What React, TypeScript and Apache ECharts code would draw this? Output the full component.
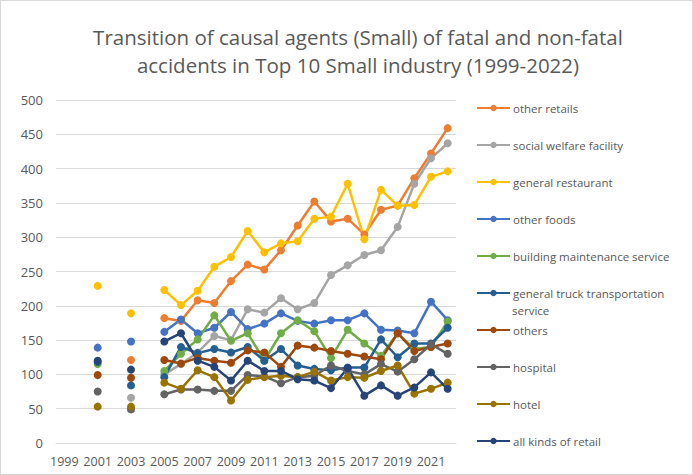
import React, { useEffect, useRef } from "react";
import * as echarts from "echarts";

const years = Array.from({ length: 24 }, (_, i) => String(1999 + i));

const names = [
  "other retails",
  "social welfare facility",
  "general restaurant",
  "other foods",
  "building maintenance service",
  "general truck transportation service",
  "others",
  "hospital",
  "hotel",
  "all kinds of retail",
];

const colors = [
  "#ED7D31",
  "#A5A5A5",
  "#FFC000",
  "#4472C4",
  "#70AD47",
  "#255E91",
  "#9E480E",
  "#636363",
  "#997300",
  "#264478",
];

const N = null;
// 1999..2022
const otherRetails = [N, N, N, N, 121, N, 182, 178, 208, 204, 236, 260, 253, 281, 317, 352, 323, 327, 304, 340, 346, 386, 422, 459];
const socialWelfare = [N, N, N, N, 66, N, 100, 115, 132, 156, 150, 195, 190, 211, 195, 204, 245, 259, 274, 281, 315, 378, 415, 437];
const generalRestaurant = [N, N, 229, N, 189, N, 223, 201, 222, 257, 271, 309, 278, 291, 294, 327, 330, 378, 297, 369, 346, 347, 388, 396];
const otherFoods = [N, N, 139, N, 148, N, 162, 180, 160, 168, 191, 166, 174, 189, 178, 174, 179, 179, 189, 165, 164, 160, 206, 179];
const buildingMaint = [N, N, 115, N, N, N, 105, 130, 151, 186, 149, 160, 120, 160, 179, 163, 124, 165, 145, 127, 160, 137, 140, 177];
const truck = [N, N, 118, N, 84, N, 96, 140, 131, 137, 132, 140, 120, 137, 113, 108, 106, 110, 110, 151, 125, 145, 145, 168];
const others = [N, N, 99, N, 95, N, 121, 116, 124, 120, 117, 135, 132, 111, 142, 139, 134, 130, 126, 122, 160, 134, 140, 145];
const hospital = [N, N, 75, N, 49, N, 71, 78, 78, 76, 76, 99, 97, 87, 96, 98, 113, 105, 100, 115, 104, 122, 144, 130];
const hotel = [N, N, 53, N, 53, N, 88, 79, 106, 96, 62, 92, 96, 98, 96, 104, 91, 96, 95, 105, 113, 72, 79, 88];
const allKindsRetail = [N, N, 120, N, 107, N, 148, 160, 120, 111, 91, 120, 105, 105, 93, 91, 80, 109, 69, 84, 69, 81, 103, 79];

const seriesData = [
  otherRetails,
  socialWelfare,
  generalRestaurant,
  otherFoods,
  buildingMaint,
  truck,
  others,
  hospital,
  hotel,
  allKindsRetail,
];

const yTicks = [0, 50, 100, 150, 200, 250, 300, 350, 400, 450, 500];

const FONT = "'Open Sans', 'Noto Sans', sans-serif";
const TXT = "#595959";

export default function App() {
  const ref = useRef<HTMLDivElement>(null);
  useEffect(() => {
    if (!ref.current) return;
    const chart = echarts.init(ref.current, null, { renderer: "svg" });
    const legendTop0 = 101;
    const legendStep = 37;
    const legends = names.map((n, i) => ({
      show: true,
      orient: "vertical",
      left: 475,
      top: legendTop0 + i * legendStep,
      padding: 0,
      itemWidth: 33,
      itemHeight: 8,
      itemGap: 0,
      data: [n],
      selectedMode: false,
      formatter: (name: string) =>
        name === "general truck transportation service" ? "general truck transportation" : name,
      textStyle: { color: TXT, fontSize: 11.5, fontFamily: FONT, padding: [0, 0, 0, -2] },
    }));
    chart.setOption({
      animation: false,
      backgroundColor: "#ffffff",
      title: {
        text: "Transition of causal agents (Small) of fatal and non-fatal\naccidents in Top 10 Small industry (1999-2022)",
        left: 352,
        top: 17,
        textAlign: "center",
        textStyle: {
          color: TXT,
          fontSize: 20.5,
          fontWeight: "normal",
          fontFamily: FONT,
          lineHeight: 28,
        },
      },
      legend: legends,
      graphic: [
        {
          type: "text",
          left: 511,
          top: 303,
          style: { text: "service", fill: TXT, fontSize: 11.5, fontFamily: FONT },
        },
      ],
      grid: { left: 55, top: 99, width: 400, height: 343, containLabel: false },
      xAxis: {
        type: "category",
        data: years,
        boundaryGap: true,
        axisLine: { lineStyle: { color: "#d9d9d9", width: 1 } },
        axisTick: { show: false },
        axisLabel: { interval: 1, color: TXT, fontSize: 12.5, fontFamily: FONT, margin: 12 },
      },
      yAxis: {
        type: "value",
        min: yTicks[0],
        max: yTicks[yTicks.length - 1],
        interval: 50,
        axisLine: { show: false },
        axisTick: { show: false },
        splitLine: { lineStyle: { color: "#d9d9d9", width: 1 } },
        axisLabel: { color: TXT, fontSize: 13, fontFamily: FONT, margin: 13 },
      },
      series: names.map((n, i) => ({
        name: n,
        type: "line",
        data: seriesData[i],
        connectNulls: false,
        symbol: "circle",
        symbolSize: 8,
        showSymbol: true,
        showAllSymbol: true,
        lineStyle: { color: colors[i], width: 2.5 },
        itemStyle: { color: colors[i] },
      })),
    });
    return () => chart.dispose();
  }, []);
  return (
    <div
      ref={ref}
      style={{
        position: "fixed",
        left: 0,
        top: 0,
        width: 693,
        height: 475,
        boxSizing: "border-box",
        border: "1px solid #d9d9d9",
        background: "#fff",
      }}
    />
  );
}
